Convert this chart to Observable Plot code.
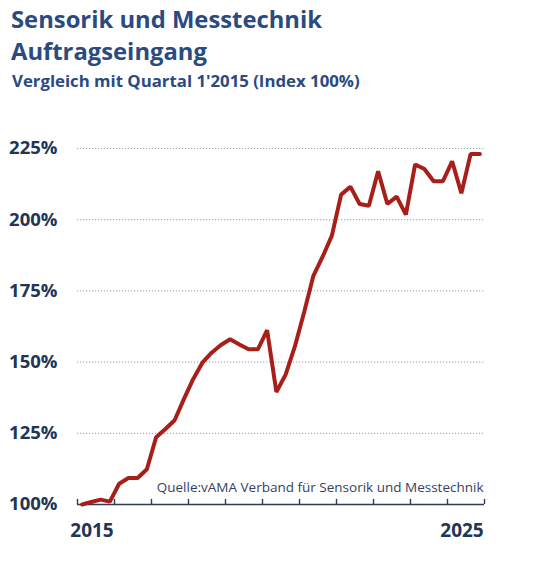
<!DOCTYPE html>
<html>
<head>
<meta charset="utf-8">
<script src="https://cdn.jsdelivr.net/npm/d3@7"></script>
<script src="https://cdn.jsdelivr.net/npm/@observablehq/plot@0.6"></script>
<style>
  body { margin: 0; background: #fff; }
  #wrap { position: relative; width: 540px; height: 563px; font-family: "Open Sans", sans-serif; overflow: hidden; }
  .t1 { position: absolute; left: 11px; top: 4.2px; font-size: 23.8px; line-height: 31.5px; font-weight: 700; color: #2a4a80; white-space: nowrap; }
  .t2 { position: absolute; left: 12px; top: 70.5px; font-size: 16.8px; line-height: 20px; font-weight: 700; color: #2a4a80; white-space: nowrap; }
  #chart { position: absolute; left: 0; top: 100px; }
  #chart svg { display: block; }
</style>
</head>
<body>
<div id="wrap">
  <div class="t1">Sensorik und Messtechnik<br>Auftragseingang</div>
  <div class="t2">Vergleich mit Quartal 1'2015 (Index 100%)</div>
  <div id="chart"></div>
</div>
<script>
// Quarterly order intake index, Q1 2015 .. Q4 2025 (Q1 2015 = 100%)
const startYear = 2015;
const indexValues = [
  100, 100.9, 101.7, 101,
  107.3, 109.3, 109.3, 112.4,
  123.6, 126.5, 129.6, 137,
  144, 149.8, 153.3, 156,
  158, 156.2, 154.5, 154.5,
  161.2, 139.5, 145.6, 155.5,
  167.5, 180.3, 187, 194.4,
  208.8, 211.6, 205.5, 204.9,
  217, 205.5, 208.1, 201.8,
  219.4, 217.8, 213.5, 213.5,
  220.5, 209.3, 223.1, 223.1
];
const yTicks = [100, 125, 150, 175, 200, 225];
const gridTicks = [125, 150, 175, 200, 225];
const yearBoundaries = d3.range(2015, 2027);
const yearLabels = [2015, 2025];
const sourceText = "Quelle:vAMA Verband für Sensorik und Messtechnik";

const data = indexValues.map((v, i) => ({ t: startYear + i / 4 + 0.125, v }));

const navy = "#213556";
const axisColor = "#2b3b58";

const chart = Plot.plot({
  width: 540,
  height: 463,
  marginLeft: 77,
  marginRight: 56,
  marginTop: 48,
  marginBottom: 59,
  style: { fontFamily: "Open Sans", background: "transparent" },
  x: { domain: [2015, 2026], axis: null },
  y: { domain: [100, 225], axis: null },
  marks: [
    Plot.ruleY(gridTicks, { stroke: "#9c9c9c", strokeWidth: 1, strokeDasharray: "1.2 1.8" }),
    Plot.text([sourceText], {
      x: 2026, y: 100, text: d => d, textAnchor: "end", lineAnchor: "bottom",
      dy: -12.3, dx: -1, fontSize: 13.5, fill: "#33425f"
    }),
    Plot.ruleY([100], { stroke: axisColor, strokeWidth: 1.6 }),
    Plot.ruleX(yearBoundaries, { x: d => d, y1: 100, y2: 101.8, stroke: axisColor, strokeWidth: 1.4 }),
    Plot.line(data, { x: "t", y: "v", stroke: "#a81e19", strokeWidth: 4, strokeLinejoin: "miter" }),
    Plot.text(yTicks, {
      y: d => d, text: d => d + "%", frameAnchor: "left", textAnchor: "end",
      dx: -20, fontSize: 18.5, fontWeight: 700, fill: navy
    }),
    Plot.text(yearLabels, {
      x: d => d + 0.5, y: 100, text: d => String(d), dy: 26.5, dx: -4,
      fontSize: 19, fontWeight: 700, fill: navy
    })
  ]
});
document.getElementById("chart").appendChild(chart);
</script>
</body>
</html>
